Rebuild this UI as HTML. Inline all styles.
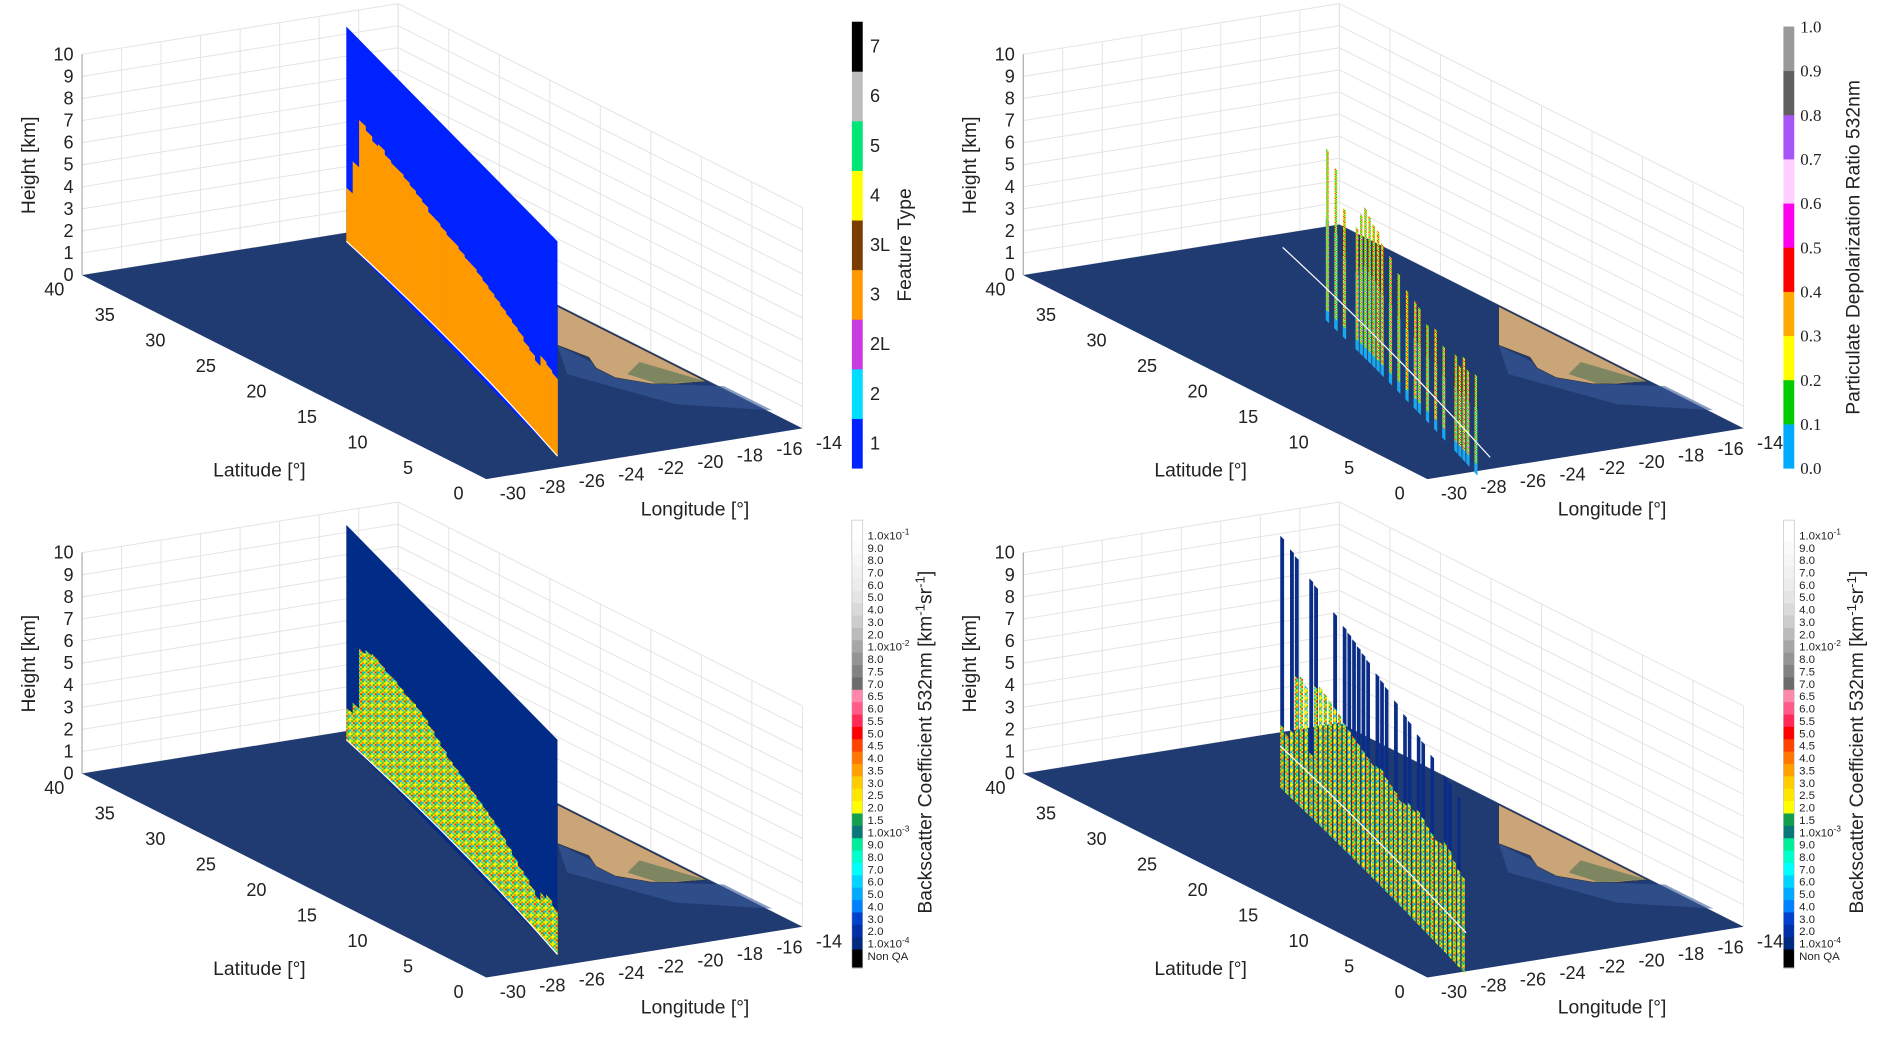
<!DOCTYPE html>
<html><head><meta charset="utf-8"><style>
html,body{margin:0;padding:0;background:#fff;}
svg{display:block;}
text{font-family:"Liberation Sans",Arial,sans-serif;fill:#222;}
</style></head><body>
<svg id="fig" width="1892" height="1039" viewBox="0 0 1568 861" preserveAspectRatio="none" xmlns="http://www.w3.org/2000/svg">
<defs>
<pattern id="aerPat" patternUnits="userSpaceOnUse" width="6" height="6">
<rect width="6" height="6" fill="#ffe600"/>
<rect x="0" y="0" width="1.5" height="1.5" fill="#10b050"/><rect x="3" y="0" width="1.5" height="1.5" fill="#00d4ff"/>
<rect x="1.5" y="1.5" width="1.5" height="1.5" fill="#ffff00"/><rect x="4.5" y="1.5" width="1.5" height="1.5" fill="#00cc66"/>
<rect x="0" y="3" width="1.5" height="1.5" fill="#ff7700"/><rect x="3" y="3" width="1.5" height="1.5" fill="#10b050"/>
<rect x="1.5" y="4.5" width="1.5" height="1.5" fill="#00aaff"/><rect x="4.5" y="4.5" width="1.5" height="1.5" fill="#ff2a00"/>
<rect x="4.5" y="0" width="1.5" height="1.5" fill="#ffcc00"/><rect x="0" y="4.5" width="1.5" height="1.5" fill="#00e0a0"/>
</pattern>
<pattern id="depPat" patternUnits="userSpaceOnUse" width="4" height="4">
<rect width="4" height="4" fill="#ffff00"/>
<rect x="0" y="0" width="1" height="1" fill="#00cc00"/><rect x="2" y="0" width="1" height="1" fill="#ff0000"/>
<rect x="1" y="1" width="1" height="1" fill="#ffaa00"/><rect x="3" y="1" width="1" height="1" fill="#00aaff"/>
<rect x="0" y="2" width="1" height="1" fill="#ff00cc"/><rect x="2" y="2" width="1" height="1" fill="#00cc00"/>
<rect x="1" y="3" width="1" height="1" fill="#ff0000"/><rect x="3" y="3" width="1" height="1" fill="#00cc00"/>
</pattern>
</defs>
</svg>
<script>
const NS='http://www.w3.org/2000/svg';
const svg=document.getElementById('fig');
const heightTicks=[0,1,2,3,4,5,6,7,8,9,10];
const latTicks=[0,5,10,15,20,25,30,35,40];
const lonTicks=[-30,-28,-26,-24,-22,-20,-18,-16,-14];
const featureLabels=['1','2','2L','3','3L','4','5','6','7'];
const featureColors=['#0022ff','#00ddff','#c83ce0','#ff9900','#7a3c00','#ffff00','#00e676','#bdbdbd','#000000'];
const depolLabels=['0.0','0.1','0.2','0.3','0.4','0.5','0.6','0.7','0.8','0.9','1.0'];
const depolColors=['#00aaff','#00cc00','#ffff00','#ffaa00','#ff0000','#ff00ee','#ffd0ff','#a855f7','#606060','#999999'];
const bscLabels=['1.0x10-1','9.0','8.0','7.0','6.0','5.0','4.0','3.0','2.0','1.0x10-2','8.0','7.5','7.0','6.5','6.0','5.5','5.0','4.5','4.0','3.5','3.0','2.5','2.0','1.5','1.0x10-3','9.0','8.0','7.0','6.0','5.0','4.0','3.0','2.0','1.0x10-4','Non QA'];
const bscColors=['#ffffff','#fbfbfb','#f6f6f6','#f1f1f1','#ececec','#e5e5e5','#dadada','#cdcdcd','#bbbbbb','#a6a6a6','#949494','#828282','#6c6c6c','#ff88aa','#ff5a88','#ff2a55','#ff0000','#ff4400','#ff7700','#ffa000','#ffcc00','#ffe600','#ffff00','#10a050','#0a7878','#00ee99','#00ffcc','#00ffff','#00d4ff','#00aaff','#0080ff','#0040cc','#0030a8','#002a80','#000000'];
// aerosol layer top heights (km) along track, north->south
const tlAerosolTop=[2.5,4.0,6.2,6.0,5.8,5.9,5.7,5.6,5.6,5.5,5.4,5.3,5.2,5.0,5.0,4.9,4.8,4.8,4.7,4.6,4.6,4.5,4.4,4.3,4.2,4.1,4.0,3.9,3.8,3.6,3.5,3.3,3.8,3.7,3.6];
const blAerosolTop=[1.5,2.0,4.8,5.0,5.1,5.0,4.9,4.9,4.8,4.7,4.7,4.6,4.5,4.3,4.1,3.9,3.7,3.6,3.5,3.4,3.3,3.2,3.1,3.0,2.9,2.7,2.5,2.3,2.1,2.0,1.8,1.6,2.0,2.2,2.0];
const trDepolTop=[0,0,0,0,0,0,0,0,0,0,6.5,0,6.0,0,4.5,0,0,4.2,5.0,5.5,5.3,5.1,5.0,4.6,0,4.4,0,4.0,0,3.6,0,3.5,3.4,0,3.0,0,3.2,0,2.8,0,0,3.0,2.7,3.3,2.9,0,3.1,0,0,0];
const brBlueTop=[10,0,9.8,9.7,0,0,9.3,9.2,0,0,0,8.8,0,8.6,8.5,8.4,8.3,8.2,8.1,0,7.9,7.8,7.7,0,7.5,0,7.3,7.2,0,7.0,6.9,0,6.7,0,0,6.4,6.3,0,6.1,0];
const brAerosolTop=[1.0,0.8,1.2,4.0,4.2,4.0,1.0,4.4,4.6,4.5,4.4,4.3,4.2,4.0,3.9,3.8,3.7,3.6,3.5,3.4,3.5,3.6,3.4,3.3,3.2,3.0,3.1,3.3,3.2,3.4,3.3,3.1,3.0,2.9,3.0,3.2,3.1,2.8,2.6,2.5];

function mk(tag,attrs,parent){const e=document.createElementNS(NS,tag);for(const k in attrs)e.setAttribute(k,attrs[k]);(parent||svg).appendChild(e);return e;}
function pts(a){return a.map(p=>p[0].toFixed(1)+','+p[1].toFixed(1)).join(' ');}

function panel(ox,oy,kind,lonDx){
  const g=mk('g',{});
  
  
  const fp=(lat,lon)=>[ox+403+(lon+30)/16*262-lat/40*335, oy+397-(lon+30)/16*42-lat/40*169];
  const Z=18.3;
  const grid=mk('g',{stroke:'#e3e3e3','stroke-width':0.8,fill:'none'},g);
  
  
  heightTicks.forEach(h=>{
    const a=fp(40,-30),b=fp(40,-14),c=fp(0,-14);
    mk('polyline',{points:pts([[a[0],a[1]-h*Z],[b[0],b[1]-h*Z],[c[0],c[1]-h*Z]])},grid);
  });
  lonTicks.forEach(l=>{const a=fp(40,l);mk('line',{x1:a[0],y1:a[1],x2:a[0],y2:a[1]-10*Z},grid);});
  latTicks.forEach(l=>{const a=fp(l,-14);mk('line',{x1:a[0],y1:a[1],x2:a[0],y2:a[1]-10*Z},grid);});
  const ax0=fp(40,-30);
  mk('line',{x1:ax0[0],y1:ax0[1],x2:ax0[0],y2:ax0[1]-10*Z,stroke:'#9a9a9a','stroke-width':0.8},g);
  const floor=mk('polygon',{points:pts([fp(40,-30),fp(0,-30),fp(0,-14),fp(40,-14)]),fill:'#203a72'},g);
  
  
  const shelf=mk('polygon',{points:pts([[ox+462,oy+286],[ox+490,oy+300],[ox+540,oy+318],[ox+600,oy+320],[ox+640,oy+340],[ox+560,oy+335],[ox+470,oy+310]]),fill:'#3a5a98',opacity:0.6},g);
  
  
  const land=mk('polygon',{points:pts([[ox+462,oy+254],[ox+585,oy+316],[ox+560,oy+318],[ox+540,oy+318],[ox+510,oy+313],[ox+494,oy+305],[ox+488,oy+296],[ox+462,oy+286]]),fill:'#c9a577',stroke:'#333','stroke-width':0.5},g);
  
  
  const land2=mk('polygon',{points:pts([[ox+530,oy+300],[ox+585,oy+316],[ox+545,oy+318],[ox+520,oy+310]]),fill:'#7d8660'},g);
  
  
  let B0,C,B1,CZ,zLow;
  if(kind==='feature'||kind==='backscatter'){B0=[287,200];C=[380,285];B1=[462,378];CZ=17.8;zLow=0;}
  else if(kind==='depol'){B0=[283,205];C=[373,288];B1=[455,379];CZ=17.8;zLow=-1.5;}
  else {B0=[281,205];C=[362,282];B1=[435,360];CZ=17.4;zLow=-2;}
  const base=t=>[ox+(1-t)*(1-t)*B0[0]+2*t*(1-t)*C[0]+t*t*B1[0], oy+(1-t)*(1-t)*B0[1]+2*t*(1-t)*C[1]+t*t*B1[1]];
  const col=(t0,t1,z0,z1)=>{const a=base(t0),b=base(t1);return pts([[a[0],a[1]-z0*CZ],[b[0],b[1]-z0*CZ],[b[0],b[1]-z1*CZ],[a[0],a[1]-z1*CZ]]);};
  const cur=mk('g',{},g);
  
  
  if(kind==='feature'||kind==='backscatter'){
    const bgc=kind==='feature'?'#0022ff':'#002c87';
    const bg=mk('polygon',{points:col(0,1,0,10),fill:bgc},cur);
    
    
    const arr=kind==='feature'?tlAerosolTop:blAerosolTop;
    const n=arr.length;
    arr.forEach((v,i)=>{
      const p=mk('polygon',{points:col(i/n,(i+1)/n+0.002,0,v),fill:kind==='feature'?'#ff9900':'url(#aerPat)'},cur);
      
      
    });
  } else if(kind==='depol'){
    const n=trDepolTop.length;
    trDepolTop.forEach((v,i)=>{
      if(v<=0)return;
      const b=mk('polygon',{points:col(i/n,(i+0.8)/n,zLow,v*0.5),fill:'#19a8f0'},cur);
      
      
      const p=mk('polygon',{points:col((i+0.1)/n,(i+0.7)/n,zLow+0.5,v),fill:'url(#depPat)'},cur);
      
      
    });
  } else {
    const n=brBlueTop.length;
    brBlueTop.forEach((v,i)=>{
      if(v<=0)return;
      const p=mk('polygon',{points:col(i/n,(i+0.8)/n,zLow,v),fill:'#0a2d88'},cur);
      
      
    });
    const m=brAerosolTop.length;
    brAerosolTop.forEach((v,i)=>{
      const p=mk('polygon',{points:col(i/m,(i+0.7)/m,zLow,v),fill:'url(#aerPat)'},cur);
      
      
    });
  }
  const a0=base(0),a2=base(1);
  const track=mk('path',{d:`M${a0[0]},${a0[1]} Q${ox+C[0]},${oy+C[1]} ${a2[0]},${a2[1]}`,stroke:'#ffffff','stroke-width':1,fill:'none'},g);
  
  
  heightTicks.forEach(h=>{
    const t=mk('text',{x:ax0[0]-7,y:ax0[1]-h*Z+5,'text-anchor':'end','font-size':15},g);
    
    
    t.textContent=h;
  });
  latTicks.forEach(l=>{
    const p=fp(l,-30);
    const t=mk('text',{x:p[0]-23,y:p[1]+17,'text-anchor':'middle','font-size':15},g);
    
    
    t.textContent=l;
  });
  lonTicks.forEach(l=>{
    const p=fp(0,l);
    const t=mk('text',{x:p[0]+22,y:p[1]+17,'text-anchor':'middle','font-size':15},g);
    
    
    t.textContent=l;
  });
  const ht=mk('text',{x:0,y:0,'text-anchor':'middle','font-size':16,transform:`translate(${ox+29},${oy+137}) rotate(-90)`},g);
  
  
  ht.textContent='Height [km]';
  const lt=mk('text',{x:ox+215,y:oy+395,'text-anchor':'middle','font-size':16},g);
  
  
  lt.textContent='Latitude [°]';
  const gt=mk('text',{x:ox+576+lonDx,y:oy+427,'text-anchor':'middle','font-size':16},g);
  
  
  gt.textContent='Longitude [°]';
}

panel(0,0,'feature',0);
panel(780,0,'depol',-20);
panel(0,413,'backscatter',0);
panel(780,413,'backscatterqa',-20);

(function(){
  const g=mk('g',{});
  
  
  const top=18,bot=388,n=featureLabels.length,h=(bot-top)/n;
  featureLabels.forEach((lab,i)=>{
    const y=bot-(i+1)*h;
    const r=mk('rect',{x:706,y:y,width:9,height:h+0.3,fill:featureColors[i]},g);
    
    
    const t=mk('text',{x:721,y:y+h/2+5,'font-size':15},g);
    
    
    t.textContent=lab;
  });
  const tt=mk('text',{x:0,y:0,'text-anchor':'middle','font-size':16,transform:'translate(755,203) rotate(-90)'},g);
  
  
  tt.textContent='Feature Type';
})();

(function(){
  const g=mk('g',{});
  
  
  const top=22,bot=388,n=depolColors.length,h=(bot-top)/n;
  depolColors.forEach((c,i)=>{
    const r=mk('rect',{x:1478,y:bot-(i+1)*h,width:9,height:h+0.3,fill:c},g);
    
    
  });
  depolLabels.forEach((lab,i)=>{
    const t=mk('text',{x:1492,y:bot-i*h+5,'font-size':14,style:'font-family:"Liberation Serif",serif'},g);
    
    
    t.textContent=lab;
  });
  const tt=mk('text',{x:0,y:0,'text-anchor':'middle','font-size':16,transform:'translate(1541,205) rotate(-90)'},g);
  
  
  tt.textContent='Particulate Depolarization Ratio 532nm';
})();

function bscBar(x0,oy){
  const g=mk('g',{});
  
  
  const top=oy+431,bot=oy+802,first=oy+443.5,step=10.25;
  const n=bscLabels.length;
  bscLabels.forEach((lab,i)=>{
    const y0=i===0?top:first+(i-0.5)*step, y1=i===n-1?bot:first+(i+0.5)*step;
    const r=mk('rect',{x:x0,y:y0,width:9,height:y1-y0+0.3,fill:bscColors[i]},g);
    
    
    const t=mk('text',{x:x0+13,y:first+i*step+3.5,'font-size':9.5},g);
    
    
    const m=lab.match(/^(1\.0x10)(-\d)$/);
    if(m){t.textContent=m[1];const s=mk('tspan',{dy:-4,'font-size':7},t);s.textContent=m[2];}
    else t.textContent=lab;
  });
  mk('rect',{x:x0,y:top,width:9,height:bot-top,fill:'none',stroke:'#bbb','stroke-width':0.5},g);
  const tt=mk('text',{x:0,y:0,'text-anchor':'middle','font-size':16,transform:`translate(${x0+66},${oy+615}) rotate(-90)`},g);
  
  
  tt.textContent='Backscatter Coefficient 532nm [km';
  const s1=mk('tspan',{dy:-6,'font-size':11},tt);s1.textContent='-1';
  const s2=mk('tspan',{dy:6},tt);s2.textContent='sr';
  const s3=mk('tspan',{dy:-6,'font-size':11},tt);s3.textContent='-1';
  const s4=mk('tspan',{dy:6},tt);s4.textContent=']';
}
bscBar(706,0);
bscBar(1478,0);
</script>
</body></html>
